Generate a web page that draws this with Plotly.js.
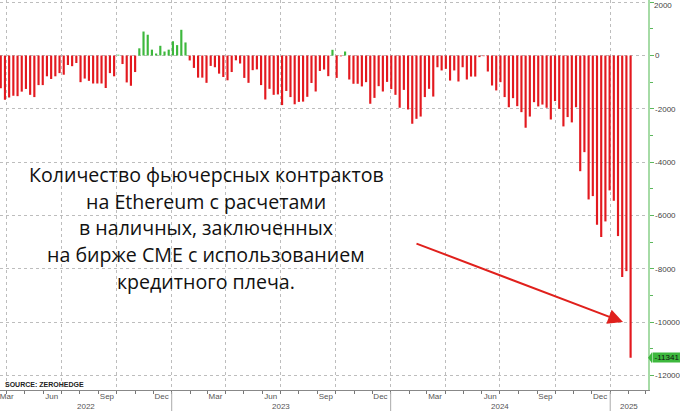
<!DOCTYPE html>
<html><head><meta charset="utf-8">
<script src="https://cdn.plot.ly/plotly-3.0.1.min.js"></script>
<style>html,body{margin:0;padding:0;background:#fff}#chart{width:680px;height:411px}</style>
</head><body><div id="chart"></div>
<script>
// ---- data ----
const firstWeek = '2022-03-22';
const contracts = [
  -1230,-1660,-1575,-1510,-1525,-1355,-1255,-1475,-1560,-1110,
  -1110,-780,-880,-780,-660,-720,-355,-400,-280,-1000,
  -865,-950,-1050,-1050,-1050,-1220,-660,-780,30,-320,
  -1010,-1135,-620,270,900,780,220,75,365,150,
  220,535,390,965,490,-185,-465,-830,-830,-1025,
  -390,-440,-680,-805,-930,-620,-180,-300,-840,-1025,
  -550,-520,-1110,-1650,-1250,-1475,-1460,-1860,-1330,-1560,
  -1830,-1740,-1730,-1550,-1030,-1350,-580,-525,-775,215,
  -840,-30,150,-900,-1060,-1060,-1160,-1000,-1810,-1590,
  -1150,-1350,-990,-1260,-1475,-1960,-1290,-2025,-2560,-2375,
  -2290,-1560,-1250,-1540,-440,-560,-500,-940,-560,-975,
  -440,-900,-790,-790,-60,-25,-600,-1125,-1310,-1000,
  -1560,-1940,-1600,-1900,-2125,-2710,-2290,-1750,-1910,-1840,
  -1960,-2400,-1710,-2000,-2660,-2310,-2510,-1940,-4340,-3625,
  -5400,-5275,-6350,-6810,-6225,-5060,-5450,-6775,-8310,-8090,
  -11341
];
const monthLabels = ['Mar','Jun','Sep','Dec','Mar','Jun','Sep','Dec','Mar','Jun','Sep','Dec'];
const monthLabelDates = ['2022-04-01','2022-06-15','2022-09-15','2022-12-15','2023-03-15','2023-06-15','2023-09-15','2023-12-15','2024-03-15','2024-06-15','2024-09-15','2024-12-15'];
const years = [2022, 2023, 2024, 2025];
const yTicks = [2000, 0, -2000, -4000, -6000, -8000, -10000, -12000];
const lastLabel = '-11341';
const noteLines = [
  'Количество фьючерсных контрактов',
  'на Ethereum с расчетами',
  'в наличных, заключенных',
  'на бирже CME с использованием',
  'кредитного плеча.'
];
const sourceText = 'SOURCE: ZEROHEDGE';

// ---- derived ----
const DAY = 864e5;
const t0 = Date.parse(firstWeek + 'T00:00:00Z');
const weeks = contracts.map((v, i) => new Date(t0 + i * 7 * DAY).toISOString().slice(0, 10));
const colors = contracts.map(v => v >= 0 ? '#3db83d' : '#e3191f');
const xRange = ['2022-03-20 18:00', '2025-03-05'];
const yRange = [-12550, 2083];

const W = 680, H = 411, M = {l: 0, r: 32, t: 0, b: 21};
const PW = W - M.l - M.r, PH = H - M.t - M.b;
const px = x => x / PW;
const py = y => 1 - y / PH;
const labelFont = {family: 'Liberation Sans, Arial, sans-serif', size: 8, color: '#444'};

const rs = Date.parse(xRange[0].replace(' ', 'T') + 'Z'), re = Date.parse(xRange[1] + 'T00:00:00Z');
const annotations = [];
const shapes = [];
years.forEach(y => {
  const a = Math.max(Date.UTC(y, 0, 1), rs), b = Math.min(Date.UTC(y + 1, 0, 1), re);
  annotations.push({xref: 'x', yref: 'paper', x: new Date((a + b) / 2).toISOString(), y: py(406),
    text: String(y), showarrow: false, xanchor: 'center', yanchor: 'middle',
    font: {family: 'Liberation Sans, Arial, sans-serif', size: 8, color: '#555'}});
  if (Date.UTC(y, 0, 1) > rs) {
    shapes.push({type: 'line', xref: 'x', yref: 'paper', x0: y + '-01-01', x1: y + '-01-01',
      y0: py(392), y1: py(412), line: {color: '#aaa', width: 1}});
  }
});

// top tick label drawn just inside the figure edge
const topTick = yTicks[0];
annotations.push({xref: 'paper', yref: 'y', x: 1, y: topTick, xshift: 5, yshift: 2, text: String(topTick),
  showarrow: false, xanchor: 'left', yanchor: 'top', borderpad: 0, font: labelFont});

const noteBaselines = [181.7, 208.3, 235, 261.7, 288.3];
const NFS = 19.6;
noteLines.forEach((t, i) => {
  annotations.push({xref: 'paper', yref: 'paper', x: px(206), y: py(noteBaselines[i] - 0.36 * NFS),
    text: t, showarrow: false, xanchor: 'center', yanchor: 'middle',
    font: {family: 'Open Sans, Noto Sans, sans-serif', size: NFS, color: '#111'}});
});

annotations.push({xref: 'paper', yref: 'paper', x: px(623), y: py(322), text: '',
  showarrow: true, ax: -208, ay: -79, arrowcolor: '#e0201c', arrowwidth: 2, arrowhead: 2, arrowsize: 1.5, standoff: 0});

annotations.push({xref: 'paper', yref: 'paper', x: px(3), y: py(384), text: '<b>' + sourceText + '</b>',
  showarrow: false, xanchor: 'left', yanchor: 'middle',
  font: {family: 'Liberation Sans, Arial, sans-serif', size: 7, color: '#222'}});

annotations.push({xref: 'paper', yref: 'y', x: 1, y: contracts[contracts.length - 1], xshift: 4,
  text: lastLabel, showarrow: false, xanchor: 'left', yanchor: 'middle', bgcolor: '#3db83d', borderpad: 0,
  width: 28, align: 'center',
  font: {family: 'Liberation Sans, Arial, sans-serif', size: 8, color: '#111'}});
shapes.push({type: 'path', xref: 'paper', yref: 'y', xsizemode: 'pixel', ysizemode: 'pixel',
  xanchor: 1, yanchor: contracts[contracts.length - 1], path: 'M0,0 L4,-5.5 L4,5.5 Z',
  fillcolor: '#3db83d', line: {width: 0}});

const traces = [
  {type: 'bar', x: weeks, y: contracts, marker: {color: colors, line: {width: 0}},
   width: 3.6 * DAY, hoverinfo: 'skip'},
  {type: 'scatter', x: [], y: [], xaxis: 'x2', yaxis: 'y', hoverinfo: 'skip', showlegend: false}
];

const layout = {
  width: W, height: H, margin: M, showlegend: false,
  paper_bgcolor: '#fff', plot_bgcolor: '#fff',
  xaxis: {type: 'date', range: xRange, tickmode: 'linear', tick0: '2022-01-01', dtick: 'M3',
    showticklabels: false, ticks: 'outside', ticklen: 3, tickcolor: '#777',
    showgrid: true, gridcolor: '#bdbdbd', griddash: 'dot', gridwidth: 1,
    showline: true, linecolor: '#888', linewidth: 1, zeroline: false,
    minor: {tickmode: 'linear', tick0: '2022-01-01', dtick: 'M1', ticks: 'outside', ticklen: 3, tickcolor: '#777', showgrid: false}},
  xaxis2: {type: 'date', overlaying: 'x', anchor: 'y', side: 'bottom', range: xRange,
    tickmode: 'array', tickvals: monthLabelDates, ticktext: monthLabels, ticks: '',
    showgrid: false, showline: false, zeroline: false, ticklabeloverflow: 'allow',
    tickfont: {family: 'Liberation Sans, Arial, sans-serif', size: 8, color: '#555'}},
  yaxis: {side: 'right', range: yRange, tickmode: 'array', tickvals: yTicks,
    ticktext: yTicks.map((v, i) => i === 0 ? '' : String(v)),
    ticks: 'outside', ticklen: 4, tickcolor: '#5cb85c', ticklabeloverflow: 'allow',
    showgrid: true, gridcolor: '#bdbdbd', griddash: 'dot', gridwidth: 1, zeroline: false,
    showline: true, linecolor: '#a6dba6', linewidth: 1.5,
    tickfont: labelFont,
    minor: {tickmode: 'linear', tick0: 0, dtick: 1000, ticks: 'outside', ticklen: 3, tickcolor: '#5cb85c', showgrid: false}},
  bargap: 0.5,
  annotations: annotations,
  shapes: shapes
};

Plotly.newPlot('chart', traces, layout, {staticPlot: true, displayModeBar: false});
</script>
</body></html>
